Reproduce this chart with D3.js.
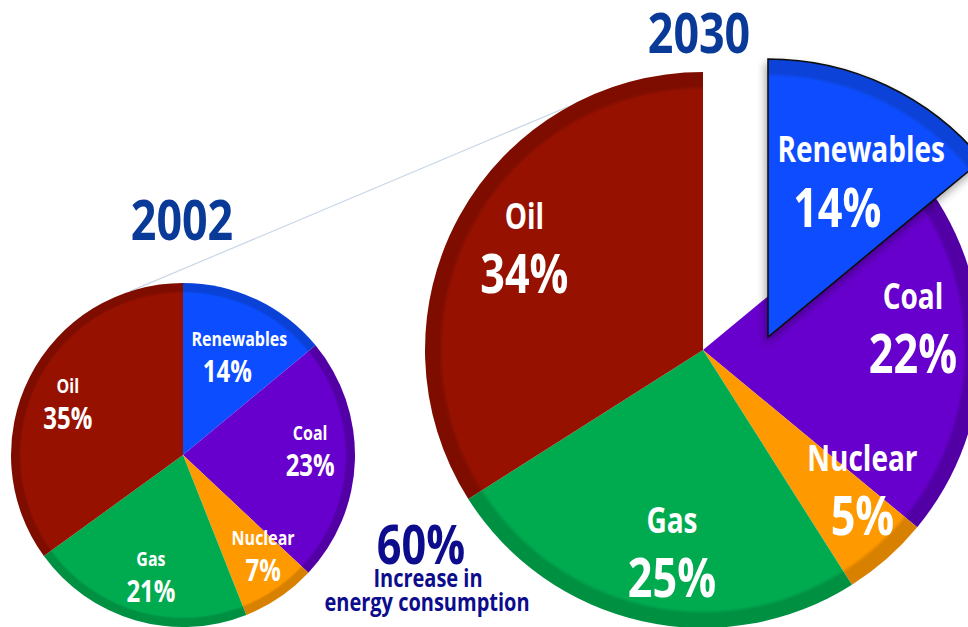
<!DOCTYPE html>
<html>
<head>
<meta charset="utf-8">
<script src="https://cdn.jsdelivr.net/npm/d3@7"></script>
<style>
  html, body { margin: 0; padding: 0; background: #fff; }
  svg { display: block; }
  text { font-family: "Open Sans", "DejaVu Sans", sans-serif; font-weight: bold; }
</style>
</head>
<body>
<div id="chart"></div>
<script>
// energy mix, share of world supply (%)
var categories = ["Renewables", "Coal", "Nuclear", "Gas", "Oil"];
var share2002 = [14, 23, 7, 21, 35];
var share2030 = [14, 22, 5, 25, 34];
var years = ["2002", "2030"];
var increaseValue = "60%";
var increaseLines = ["Increase in", "energy consumption"];

var palette = {
    Renewables: ["#0c4eff", "#0a42d8"],
    Coal: ["#6700cc", "#5200a6"],
    Nuclear: ["#ff9900", "#d88000"],
    Gas: ["#00ab50", "#009042"],
    Oil: ["#971100", "#7e0d00"]
};

var width = 968, height = 627;
var squeeze = 0.8;   // the original face is a condensed one

var svg = d3.select("#chart").append("svg")
    .attr("width", width)
    .attr("height", height);

var defs = svg.append("defs");

defs.append("filter")
    .attr("id", "shade")
    .attr("x", "-20%").attr("y", "-20%")
    .attr("width", "140%").attr("height", "140%")
    .append("feDropShadow")
    .attr("dx", -2).attr("dy", 5)
    .attr("stdDeviation", 4)
    .attr("flood-color", "#000")
    .attr("flood-opacity", 0.35);

// condensed text: squeeze horizontally around its anchor point
function label(parent, x, y, size, fill, str) {
    return parent.append("text")
        .attr("transform", "translate(" + x + "," + y + ") scale(" + squeeze + ",1)")
        .attr("text-anchor", "middle")
        .attr("fill", fill)
        .style("font-size", size + "px")
        .text(str);
}

// label placement per slice: radius as share of r, turn from mid angle (deg), name nudge (share of r)
var place2002 = [[0.645, 1.8, 0.035], [0.74, -4.1, 0], [0.745, -4.5, 0], [0.73, -1.4, 0], [0.735, -2.7, 0]];
var place2030 = [[0.635, 2.2, 0.043], [0.76, -6.3, 0], [0.76, -7.6, 0], [0.73, -3.8, 0], [0.742, 1.2, 0]];

var pies = [
    {year: years[0], values: share2002, place: place2002, cx: 183, cy: 455, r: 172, rim: 8, nameSize: 20, pctSize: 30, explode: null},
    {year: years[1], values: share2030, place: place2030, cx: 703, cy: 350, r: 278, rim: 14, nameSize: 35, pctSize: 54, explode: {cat: "Renewables", dx: 65, dy: -13}}
];

var pie = d3.pie().sort(null).value(function(d) { return d.value; });

// thin guide line from the small pie up to the big one
var a0 = -18 * Math.PI / 180, a1 = -28.5 * Math.PI / 180;
svg.append("line")
    .attr("x1", pies[0].cx + pies[0].r * Math.sin(a0))
    .attr("y1", pies[0].cy - pies[0].r * Math.cos(a0))
    .attr("x2", pies[1].cx + pies[1].r * Math.sin(a1))
    .attr("y2", pies[1].cy - pies[1].r * Math.cos(a1))
    .attr("stroke", "#c9d7e6")
    .attr("stroke-width", 1.2);

pies.forEach(function(p, pi) {

    var data = categories.map(function(c, i) { return {cat: c, value: p.values[i]}; });
    var arcs = pie(data);

    function isOut(d) { return p.explode && d.data.cat == p.explode.cat; }
    function shift(d) {
        return isOut(d) ? "translate(" + p.explode.dx + "," + p.explode.dy + ")" : null;
    }

    // rim shading, one gradient per colour
    categories.forEach(function(c) {
        var g = defs.append("radialGradient")
            .attr("id", "g" + pi + c)
            .attr("gradientUnits", "userSpaceOnUse")
            .attr("cx", 0).attr("cy", 0).attr("r", p.r);
        g.append("stop").attr("offset", 0).attr("stop-color", palette[c][0]);
        g.append("stop").attr("offset", (p.r - p.rim * 1.3) / p.r).attr("stop-color", palette[c][0]);
        g.append("stop").attr("offset", (p.r - p.rim) / p.r).attr("stop-color", palette[c][1]);
        g.append("stop").attr("offset", 1).attr("stop-color", palette[c][1]);
    });

    var arc = d3.arc().innerRadius(0).outerRadius(p.r);

    var grp = svg.append("g")
        .attr("transform", "translate(" + p.cx + "," + p.cy + ")");

    var slices = grp.selectAll(".slice")
        .data(arcs)
        .enter().append("path")
        .attr("class", "slice")
        .attr("transform", shift)
        .attr("d", arc)
        .attr("fill", function(d) { return "url(#g" + pi + d.data.cat + ")"; })
        .attr("stroke", function(d) { return isOut(d) ? "#111" : "none"; })
        .attr("stroke-width", 1.6)
        .attr("filter", function(d) { return isOut(d) ? "url(#shade)" : null; });

    // exploded slice drawn last so its shadow falls on the rest
    slices.filter(isOut).raise();

    var labels = grp.append("g");
    arcs.forEach(function(d, i) {
        var pl = p.place[i];
        var ang = (d.startAngle + d.endAngle) / 2 + pl[1] * Math.PI / 180;
        var x = pl[0] * p.r * Math.sin(ang);
        var y = -pl[0] * p.r * Math.cos(ang);
        var nudge = pl[2] * p.r;
        var lg = labels.append("g").attr("transform", shift(d));
        label(lg, x + nudge, y - 0.33 * p.pctSize, p.nameSize, "#fff", d.data.cat);
        label(lg, x - nudge, y + 0.86 * p.pctSize, p.pctSize, "#fff", d.data.value + "%");
    });
});

// year titles
label(svg, 182, 240, 56, "#0a3a98", years[0]);
label(svg, 699, 53, 56, "#0a3a98", years[1]);

// consumption increase note
label(svg, 421, 564, 54, "#0c0c8c", increaseValue);
label(svg, 428, 587, 25, "#0c0c8c", increaseLines[0]);
label(svg, 427, 611, 25, "#0c0c8c", increaseLines[1]);
</script>
</body>
</html>
